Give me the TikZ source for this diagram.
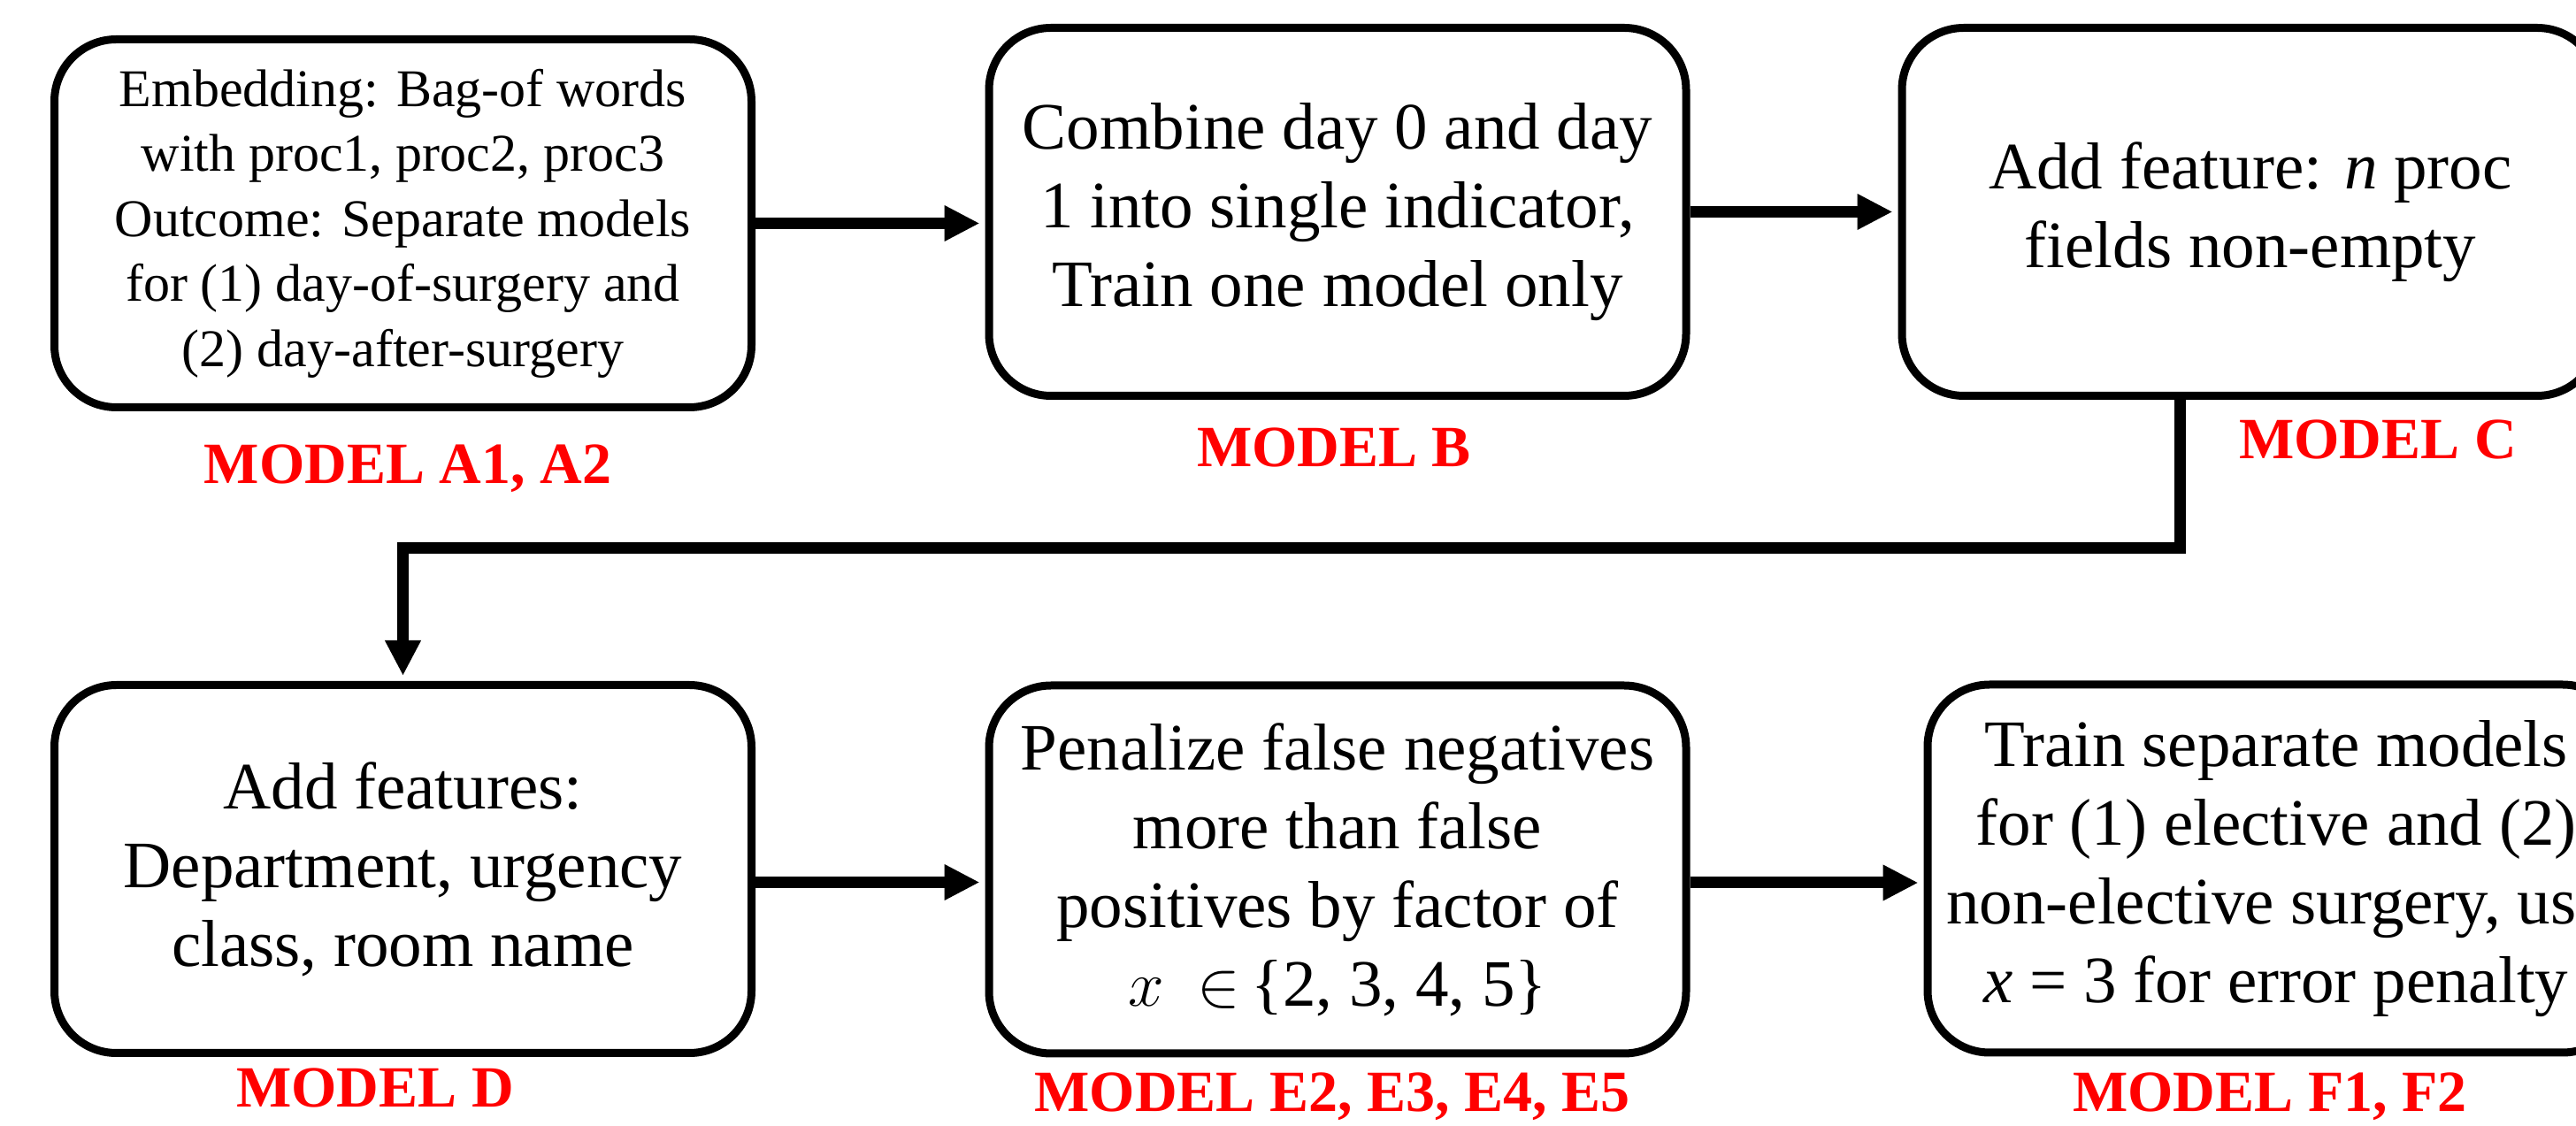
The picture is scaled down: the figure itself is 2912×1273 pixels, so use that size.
\documentclass[tikz,border=0pt]{standalone}
\usepackage{fontspec}
\setmainfont{Liberation Serif}
\usepackage{tikz}
\usetikzlibrary{calc,arrows.meta,positioning}

\tikzset{
  stepbox/.style={draw, line width=0.9mm, rounded corners=7mm,
    minimum width=78.8mm, minimum height=41.6mm, inner sep=0pt,
    align=center, font=\fontsize{21.34}{25.32}\selectfont},
  modellabel/.style={text=red, anchor=base, inner sep=0pt,
    font=\bfseries\fontsize{18.78}{22}\selectfont},
  flowarrow/.style={line width=1.3mm, shorten >=0.6mm,
    -{Triangle[length=4mm,width=3.8mm]}}
}

\begin{document}
\begin{tikzpicture}[x=0.1mm,y=-0.1mm]
	\useasboundingbox (0,0) rectangle (2912,1273);
	\clip (0,0) rectangle (2912,1273);

	%first row
	\node[stepbox, font=\fontsize{17.07}{20.9}\selectfont] (mA) at (455.5,252.5)
		{Embedding: Bag-of words\\with proc1, proc2, proc3\\Outcome: Separate models\\for (1) day-of-surgery and\\(2) day-after-surgery};
	\node[stepbox] (mB) at (1512,239.5)
		{Combine day 0 and day\\1 into single indicator,\\Train one model only};
	\node[stepbox] (mC) at (2544,239.5)
		{Add feature: \textit{n} proc\\fields non-empty};

	%second row
	\node[stepbox] (mD) at (455.5,982.5)
		{Add features:\\Department, urgency\\class, room name};
	\node[stepbox] (mE) at (1512,983)
		{Penalize false negatives\\more than false\\positives by factor of\\$x$\enspace$\in$\,\{2, 3, 4, 5\}};
	\node[stepbox] (mF) at (2573,982)
		{Train separate models\\for (1) elective and (2)\\non-elective surgery, use\\\textit{x} = 3 for error penalty};

	%model names
	\node[modellabel] (lA) at (461,547) {MODEL A1, A2};
	\node[modellabel] (lB) at (1508,528) {MODEL B};
	\node[modellabel] (lC) at (2688,519) {MODEL C};
	\node[modellabel] (lD) at (424,1252) {MODEL D};
	\node[modellabel] (lE) at (1506,1257) {MODEL E2, E3, E4, E5};
	\node[modellabel] (lF) at (2566,1257) {MODEL F1, F2};

	%arrows
	\draw[flowarrow] (mA.east) -- (mA.east -| mB.west);
	\draw[flowarrow] (mB.east) -- (mB.east -| mC.west);
	\draw[flowarrow] ([xshift=-8mm]mC.south) -- ++(0,168) -| (mD.north);
	\draw[flowarrow] ([yshift=-1.5mm]mD.east) -- ([yshift=-1.5mm]mD.east -| mE.west);
	\draw[flowarrow] ([yshift=-1.5mm]mE.east) -- ([yshift=-1.5mm]mE.east -| mF.west);
\end{tikzpicture}
\end{document}
